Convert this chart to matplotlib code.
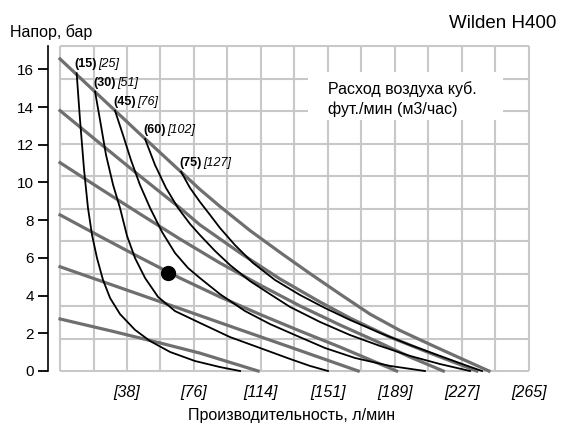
import matplotlib
matplotlib.use("Agg")
import matplotlib.pyplot as plt
from matplotlib.patches import Rectangle

plt.rcParams["font.family"] = ["Liberation Sans", "DejaVu Sans"]

# grid in US units (5 gpm / 25 psi), converted to l/min and bar
grid_x_step = 18.927
grid_y_step = 1.7237
grid_x_count = 14
grid_y_count = 10

# x tick positions (l/min) and labels
x_ticks = [37.85, 75.71, 113.56, 151.42, 189.27, 227.12, 264.98]
x_tick_labels = ["[38]", "[76]", "[114]", "[151]", "[189]", "[227]", "[265]"]
y_ticks = [0, 2, 4, 6, 8, 10, 12, 14, 16]

# head curves for different air inlet pressures (gray), x in l/min, y in bar
p1_x = [0, 22.6, 45.2, 67.8, 79.1, 90.4, 107.4, 124.4, 141.3, 158.3, 175.2, 192.2, 209.2, 226.1, 242.5]
p1_y = [16.55, 14.56, 12.57, 10.61, 9.63, 8.73, 7.45, 6.29, 5.17, 4.08, 3.02, 2.15, 1.41, 0.69, 0]
p2_x = [0, 22.6, 45.2, 67.8, 79.1, 101.8, 124.4, 147.0, 163.9, 186.5, 209.2, 235.6]
p2_y = [13.81, 12.07, 10.34, 8.65, 7.75, 6.26, 4.88, 3.66, 2.81, 1.80, 0.95, 0]
p3_x = [0, 22.6, 45.2, 67.8, 90.4, 113.1, 135.7, 158.3, 180.9, 197.9, 216.7]
p3_y = [11.05, 9.68, 8.33, 7.00, 5.73, 4.56, 3.45, 2.44, 1.49, 0.74, 0]
p4_x = [0, 22.6, 45.2, 67.8, 90.4, 113.1, 135.7, 158.3, 190.3]
p4_y = [8.28, 7.14, 6.02, 4.93, 3.93, 3.00, 2.12, 1.27, 0]
p5_x = [0, 62, 100, 130, 168.6]
p5_y = [5.53, 3.5, 2.25, 1.27, 0]
p6_x = [0, 30, 56, 79, 112]
p6_y = [2.76, 2.1, 1.5, 0.95, 0]

# air consumption curves (black)
a15_x = [9.4, 11.3, 13.6, 15.8, 18.1, 20.9, 24.3, 28.3, 33.9, 42.4, 50.9, 62.2, 76.3, 90.4, 101.8]
a15_y = [15.79, 13.32, 10.66, 8.65, 7.21, 5.99, 4.83, 3.87, 3.02, 2.18, 1.59, 1.01, 0.53, 0.21, 0]
a30_x = [19.8, 22.6, 26.0, 30.0, 33.9, 37.9, 42.4, 48.1, 55.4, 65.0, 79.1, 96.1, 113.1, 130.0, 141.3, 151.5]
a30_y = [14.82, 13.32, 11.46, 9.87, 8.65, 7.16, 5.99, 4.93, 3.93, 3.18, 2.55, 1.80, 1.22, 0.64, 0.27, 0]
a45_x = [31.1, 35.6, 40.1, 45.2, 50.9, 57.7, 65.0, 72.4, 79.1, 90.4, 104.6, 118.7, 132.8, 149.8, 166.8, 186.5, 206.3]
a45_y = [13.8, 12.52, 11.19, 9.87, 8.65, 7.37, 6.26, 5.46, 4.93, 4.08, 3.18, 2.49, 1.91, 1.22, 0.69, 0.27, 0]
a60_x = [48.1, 53.7, 59.9, 66.7, 73.5, 79.1, 87.6, 96.1, 107.4, 118.7, 130.0, 147.0, 163.9, 180.9, 197.9, 214.8, 231.8]
a60_y = [12.3, 10.93, 9.71, 8.65, 7.80, 7.21, 6.37, 5.62, 4.77, 4.08, 3.40, 2.60, 1.91, 1.33, 0.80, 0.37, 0]
a75_x = [68.4, 73.5, 79.1, 84.8, 90.4, 98.9, 109.1, 121.5, 135.7, 149.8, 163.9, 180.9, 197.9, 214.8, 228.9, 238.6]
a75_y = [10.57, 9.71, 8.97, 8.28, 7.59, 6.68, 5.73, 4.83, 4.03, 3.34, 2.71, 2.02, 1.38, 0.80, 0.32, 0]

air_labels = ["(15)", "(30)", "(45)", "(60)", "(75)"]
air_labels_m3 = ["[25]", "[51]", "[76]", "[102]", "[127]"]

point_x = [60.9]
point_y = [5.21]

GRID = "#c8c8c8"
GRAY = "#6f6f6f"

fig = plt.figure(figsize=(5.78, 4.36), dpi=100)
ax = fig.add_axes([48 / 578, 1 - 371 / 436, (528.7 - 48) / 578, (371 - 46) / 436])
x_max = grid_x_step * grid_x_count
y_max = grid_y_step * grid_y_count
ax.set_xlim(-6.8, x_max)
ax.set_ylim(0, y_max)

for k in range(grid_x_count + 1):
    ax.plot([k * grid_x_step] * 2, [0, y_max], color=GRID, lw=1.5,
            clip_on=False, zorder=1, solid_capstyle="butt")
for j in range(grid_y_count + 1):
    ax.plot([0, x_max], [j * grid_y_step] * 2, color=GRID, lw=1.5,
            clip_on=False, zorder=1, solid_capstyle="butt")

# white box behind the legend text
ax.add_patch(Rectangle((140.2, 13.32), 110.2, 2.54, facecolor="white",
                       edgecolor="none", zorder=2))
ax.text(151.5, 14.95, "Расход воздуха куб.", fontsize=11.5, va="center", zorder=3)
ax.text(151.5, 13.9, "фут./мин (м3/час)", fontsize=11.5, va="center", zorder=3)

for xs, ys in [(p1_x, p1_y), (p2_x, p2_y), (p3_x, p3_y),
               (p4_x, p4_y), (p5_x, p5_y), (p6_x, p6_y)]:
    ax.plot(xs, ys, color=GRAY, lw=2.3, zorder=3, clip_on=False,
            solid_joinstyle="round")

air_curves = [(a15_x, a15_y), (a30_x, a30_y), (a45_x, a45_y),
              (a60_x, a60_y), (a75_x, a75_y)]
for (xs, ys), lab, lab_m3 in zip(air_curves, air_labels, air_labels_m3):
    ax.plot(xs, ys, color="black", lw=1.3, zorder=4, clip_on=False,
            solid_joinstyle="round")
    ax.annotate(lab, (xs[0], ys[0]), xytext=(-2, 9), textcoords="offset pixels",
                fontsize=9, fontweight="bold", va="center", ha="left", zorder=5)
    ax.annotate(lab_m3, (xs[0], ys[0]), xytext=(22, 9), textcoords="offset pixels",
                fontsize=9, fontstyle="italic", va="center", ha="left", zorder=5)

ax.plot(point_x, point_y, "o", color="black", ms=10, zorder=6)

for side in ["top", "right", "bottom"]:
    ax.spines[side].set_visible(False)
ax.spines["left"].set_linewidth(1.2)
ax.spines["left"].set_bounds(0, y_max)

ax.set_yticks(y_ticks)
ax.tick_params(axis="y", direction="out", length=7.2, width=1.3, pad=3, labelsize=11)
ax.set_xticks(x_ticks, x_tick_labels)
ax.tick_params(axis="x", length=0, pad=10, labelsize=11.5)
for t in ax.get_xticklabels():
    t.set_fontstyle("italic")

fig.text(10 / 578, 1 - 32 / 436, "Напор, бар", fontsize=11.5, va="center", ha="left")
fig.text(292 / 578, 1 - 415 / 436, "Производительность, л/мин", fontsize=11.5,
         va="center", ha="center")
fig.text(556 / 578, 1 - 23 / 436, "Wilden H400", fontsize=13.5, va="center", ha="right")

fig.savefig("out.png", dpi=100)
